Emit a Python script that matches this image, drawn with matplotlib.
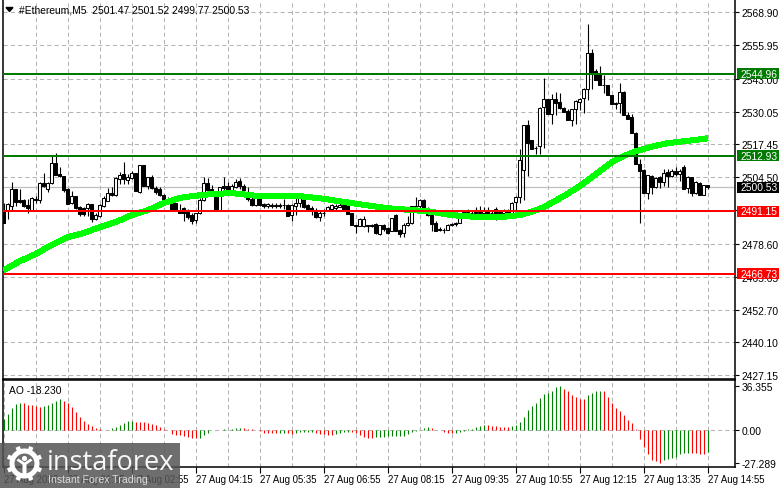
import matplotlib
matplotlib.use("Agg")
import matplotlib.pyplot as plt
from matplotlib.patches import Rectangle, Wedge, Circle, Polygon
from matplotlib.transforms import ScaledTranslation
import numpy as np

plt.rcParams['font.family'] = ['Liberation Sans', 'DejaVu Sans']

opens = [2491.4,2491.4,2493.3,2499.8,2495.5,2495.5,2493.6,2491.8,2495.9,2495.7,2502.2,2499.8,2502.2,2510.0,2505.8,2504.8,
 2499.8,2494.4,2497.0,2492.7,2492.3,2492.3,2494.0,2488.1,2489.2,2493.3,2495.3,2498.3,2497.5,2503.7,2505.7,2503.5,
 2504.1,2506.1,2498.8,2509.2,2501.1,2504.5,2500.3,2499.8,2497.5,2495.9,2495.3,2494.4,2491.8,2492.3,2491.0,2489.7,
 2487.7,2490.5,2495.7,2502.4,2499.8,2496.6,2491.8,2500.9,2500.9,2498.5,2500.5,2502.9,2501.1,2498.5,2495.9,2493.6,
 2496.2,2494.0,2493.1,2493.7,2493.6,2493.6,2493.6,2493.6,2489.7,2493.1,2494.4,2496.2,2493.6,2492.4,2491.6,2488.8,
 2490.7,2491.6,2492.0,2492.5,2492.9,2493.8,2493.6,2490.5,2485.8,2485.5,2485.3,2485.8,2485.9,2486.2,2482.3,2485.8,
 2484.5,2483.6,2489.7,2483.8,2482.7,2485.9,2486.6,2493.1,2493.1,2495.5,2492.3,2489.7,2486.8,2484.2,2483.9,2483.9,
 2486.4,2486.6,2486.8,2490.5,2491.0,2490.7,2490.5,2491.1,2490.7,2491.6,2490.7,2492.0,2490.7,2490.7,2491.8,2490.1,
 2494.9,2496.6,2507.4,2524.8,2518.9,2516.1,2516.5,2532.1,2534.9,2529.1,2534.9,2533.9,2531.7,2530.4,2526.9,2531.0,
 2533.9,2535.6,2539.1,2553.1,2546.0,2544.7,2540.6,2540.4,2536.5,2533.6,2533.4,2537.9,2528.9,2528.0,2521.9,2509.8,
 2507.2,2498.3,2505.0,2500.5,2504.6,2502.7,2506.6,2505.0,2507.1,2505.7,2508.5,2500.2,2504.4,2498.3,2502.4,2497.6,2501.47]
highs = [2494.6,2494.4,2502.7,2499.8,2499.8,2495.9,2495.9,2496.6,2497.2,2502.7,2506.1,2502.7,2512.6,2513.9,2508.3,2505.0,
 2500.1,2499.2,2497.2,2493.1,2492.7,2494.4,2494.0,2490.7,2494.0,2497.2,2500.1,2500.5,2504.4,2506.6,2510.5,2505.7,
 2507.0,2506.3,2509.2,2509.2,2504.5,2505.3,2501.1,2500.5,2497.9,2496.6,2495.9,2494.6,2494.0,2492.7,2492.0,2490.7,
 2490.7,2496.2,2504.4,2504.0,2501.4,2496.6,2500.5,2504.6,2502.7,2501.8,2503.7,2504.0,2501.8,2500.5,2497.2,2497.2,
 2497.2,2494.4,2494.6,2494.6,2494.4,2494.4,2495.9,2493.9,2493.9,2496.2,2497.2,2497.2,2494.0,2493.1,2492.3,2491.2,
 2492.0,2493.3,2494.0,2493.9,2494.4,2495.9,2493.9,2490.7,2486.0,2488.4,2489.4,2486.0,2486.2,2486.5,2486.0,2486.3,
 2484.9,2488.7,2490.1,2484.2,2486.8,2489.2,2493.3,2496.6,2495.9,2495.9,2492.7,2490.1,2487.5,2484.9,2484.5,2486.2,
 2486.8,2487.0,2488.8,2491.8,2492.0,2491.8,2492.7,2493.3,2492.7,2492.7,2491.8,2492.7,2491.8,2492.0,2492.0,2494.9,
 2497.2,2515.4,2524.8,2526.7,2518.9,2516.7,2531.9,2543.4,2535.2,2536.9,2537.9,2537.5,2531.9,2531.0,2531.3,2534.5,
 2535.4,2539.5,2564.2,2554.4,2546.9,2547.9,2544.4,2540.6,2536.7,2533.9,2541.2,2538.2,2530.0,2529.1,2522.2,2511.5,
 2507.6,2505.5,2505.3,2504.4,2505.0,2507.9,2507.6,2507.6,2508.3,2507.9,2509.2,2504.9,2504.6,2502.9,2502.7,2501.6,2501.52]
lows = [2486.6,2488.1,2491.4,2493.3,2494.4,2492.7,2490.7,2491.4,2494.4,2494.4,2500.5,2498.8,2501.8,2505.3,2504.5,2498.8,
 2494.0,2494.0,2492.0,2489.2,2489.2,2489.4,2487.1,2487.9,2488.8,2492.7,2495.3,2497.2,2497.0,2501.8,2501.8,2501.8,
 2503.7,2499.2,2498.5,2501.1,2499.8,2499.8,2497.9,2497.2,2494.6,2494.4,2491.4,2491.4,2490.7,2487.5,2488.1,2486.2,
 2486.6,2490.1,2495.3,2498.5,2497.9,2491.4,2491.4,2498.8,2497.9,2497.9,2500.1,2499.8,2498.8,2495.3,2493.3,2493.3,
 2493.1,2492.3,2492.3,2492.5,2492.3,2492.3,2492.0,2489.2,2487.5,2489.7,2492.7,2492.3,2491.8,2489.9,2488.4,2487.5,
 2489.4,2491.2,2491.8,2491.4,2492.7,2491.8,2490.1,2485.8,2482.9,2485.3,2485.0,2483.2,2484.9,2482.4,2481.9,2483.6,
 2482.3,2483.3,2483.6,2481.0,2481.0,2485.5,2486.2,2492.3,2492.0,2491.8,2489.4,2483.6,2483.3,2483.6,2482.7,2483.7,
 2485.5,2485.3,2486.6,2489.7,2489.7,2489.7,2489.7,2489.7,2489.4,2490.1,2489.2,2487.9,2489.4,2489.4,2489.7,2489.4,
 2489.7,2494.4,2495.7,2504.8,2516.1,2513.5,2513.5,2516.1,2531.7,2525.2,2528.7,2531.0,2531.0,2527.8,2524.5,2525.2,
 2530.8,2529.7,2534.7,2539.1,2545.1,2542.1,2537.5,2540.4,2536.2,2531.0,2529.7,2533.1,2528.7,2525.2,2521.3,2486.8,
 2506.3,2495.9,2498.0,2500.1,2500.1,2501.1,2500.5,2504.4,2504.8,2503.1,2505.4,2498.3,2497.2,2498.0,2498.0,2497.4,2499.77]
closes = [2486.8,2494.0,2499.8,2494.9,2494.9,2493.1,2492.3,2496.3,2495.7,2502.4,2500.9,2502.4,2510.0,2505.3,2505.0,2499.6,
 2494.0,2497.2,2492.3,2490.1,2490.1,2494.0,2488.1,2489.7,2493.8,2496.3,2498.3,2497.5,2504.1,2505.5,2503.7,2504.4,
 2506.1,2499.2,2509.2,2501.1,2504.5,2500.1,2498.8,2497.5,2495.3,2494.9,2491.8,2491.4,2490.7,2490.7,2488.8,2487.5,
 2490.5,2495.5,2502.2,2499.6,2498.3,2491.4,2500.5,2500.1,2498.5,2501.1,2502.7,2500.9,2499.6,2495.9,2493.6,2496.2,
 2493.6,2493.1,2494.0,2493.2,2493.1,2493.2,2493.5,2489.4,2493.6,2494.6,2496.3,2492.7,2492.0,2491.6,2488.8,2490.7,
 2490.6,2492.7,2493.6,2493.3,2493.7,2492.0,2490.1,2485.8,2485.5,2488.1,2488.1,2485.5,2485.3,2482.7,2485.8,2484.2,
 2482.7,2488.4,2483.6,2482.3,2486.0,2486.8,2493.1,2492.5,2495.5,2492.3,2489.7,2486.2,2483.6,2483.9,2483.7,2485.9,
 2485.8,2486.2,2488.4,2491.0,2490.7,2490.5,2491.1,2490.7,2491.6,2490.7,2490.5,2490.7,2491.0,2491.8,2490.5,2494.6,
 2496.6,2511.1,2524.8,2518.0,2515.4,2515.8,2531.7,2535.2,2529.1,2534.9,2533.4,2531.5,2530.0,2526.9,2531.0,2534.3,
 2535.2,2538.8,2553.1,2545.3,2542.5,2540.6,2540.4,2536.5,2533.2,2533.2,2537.9,2528.7,2527.1,2521.9,2509.6,2507.0,
 2498.3,2505.3,2500.5,2504.1,2502.7,2506.3,2505.0,2507.1,2505.7,2507.1,2499.8,2504.6,2498.3,2502.7,2497.6,2501.4,2500.53]

ma_index = [0,4,8,11,16,20,24,28,32,36,40,44,47,52,57,64,74,79,87,96,106,112,118,124,129,132,135,140,144,149,152,155,158,162,166,172,176]
ma_values = [2468.2,2471.7,2474.5,2477.2,2481.1,2482.7,2485.0,2487.0,2489.7,2491.6,2494.4,2496.4,2497.1,2497.9,2498.3,2497.1,
 2497.1,2496.3,2494.4,2492.4,2491.2,2489.7,2489.0,2488.9,2489.7,2491.0,2492.8,2497.1,2501.0,2506.8,2510.4,2512.8,2514.6,2516.4,2517.8,2518.9,2519.7]

ao_values = [8.8,13.2,17.9,21.2,22.0,21.9,20.9,20.4,19.8,19.3,19.5,20.4,22.0,24.2,25.3,23.7,22.0,18.7,14.6,10.5,7.7,5.0,3.3,1.4,0.6,0.3,0.2,
 1.4,2.8,4.1,6.1,7.2,7.4,6.9,6.3,6.2,5.8,5.0,4.1,2.2,0.6,-0.3,-3.6,-3.9,-4.4,-5.0,-5.5,-6.3,-6.9,-6.8,-4.4,-2.2,-0.3,-0.1,0.2,0.5,0.3,
 0.8,1.4,1.9,1.4,1.1,0.6,0.0,-0.5,-2.5,-2.6,-2.8,-2.9,-2.5,-2.2,-2.8,-3.0,-2.2,-1.9,-1.7,-1.6,-1.4,-2.2,-3.0,-3.6,-4.1,-4.4,-3.3,-2.2,
 -1.7,-1.4,-1.6,-2.2,-3.9,-5.5,-6.3,-6.6,-6.1,-5.5,-5.4,-5.3,-5.2,-5.1,-5.0,-4.9,-3.3,-1.9,-0.8,0.0,1.9,2.8,1.9,0.3,0.0,-1.7,-2.5,-2.8,
 -2.2,-1.4,-0.6,0.6,1.1,2.2,3.0,3.9,3.8,3.3,3.0,2.8,2.2,2.1,3.3,4.4,6.9,10.5,16.5,20.1,22.6,26.2,29.8,30.3,32.5,35.8,36.355,33.6,32.0,
 29.2,27.0,25.6,25.3,28.6,30.9,32.0,32.1,32.0,27.0,22.0,18.2,16.0,12.1,8.0,5.5,0.6,-7.7,-14.3,-20.1,-24.8,-25.9,-27.289,-25.1,-24.0,
 -23.4,-22.0,-19.8,-19.3,-19.0,-19.1,-19.3,-19.8,-20.1,-18.23]

price_ticks = [2568.90,2555.95,2543.00,2530.05,2517.45,2504.50,2491.55,2478.60,2465.65,2452.70,2440.10,2427.15]
price_labels = ['%.2f' % p for p in price_ticks]
ao_ticks = [36.355,0.0,-27.289]
ao_labels = ['36.355','0.00','-27.289']
date_index = [0,16,32,48,64,80,96,112,128,144,160,176]
date_labels = ['27 Aug 2026','27 Aug 01:35','27 Aug 02:55','27 Aug 04:15','27 Aug 05:35','27 Aug 06:55',
               '27 Aug 08:15','27 Aug 09:35','27 Aug 10:55','27 Aug 12:15','27 Aug 13:35','27 Aug 14:55']
green_levels = [2544.96,2512.93]
red_levels = [2491.15,2466.73]
last_price = 2500.53

W, H = 781, 489
fig = plt.figure(figsize=(W/100, H/100), dpi=100)
def axpx(l, t, r, b):
    return fig.add_axes([l/W, 1-b/H, (r-l)/W, (b-t)/H])

ax = axpx(2.5, 1, 735, 380)
sub = axpx(2.5, 381, 735, 468)
xlim = ((2.5-3.7)/4, (735-3.7)/4)
GRID = dict(color='#b4b4b4', linewidth=0.75, linestyle=(0, (4, 3)))

# main panel
x = np.arange(len(closes))
op, hi, lo, cl = map(np.array, (opens, highs, lows, closes))
ax.set_xlim(*xlim)
ax.set_ylim(2425.7, 2573.7)
ax.set_xticks(np.arange(8, 177, 8))
ax.tick_params(axis='x', length=0, labelbottom=False)
ax.yaxis.tick_right()
ax.set_yticks(price_ticks)
ax.set_yticklabels(price_labels, fontsize=7.4, color='black')
ax.tick_params(axis='y', length=3, width=0.8, pad=2)
ax.grid(True, zorder=0, **GRID)
ax.set_axisbelow(True)
ax.axhline(last_price, color='#c0c0c0', lw=0.9, zorder=1)
ax.vlines(x, lo, hi, color='black', lw=0.8, zorder=2)
up = cl >= op
ax.bar(x[up], (cl-op)[up], bottom=op[up], width=0.62, facecolor='white', edgecolor='black', lw=0.75, zorder=3)
ax.bar(x[~up], (cl-op)[~up], bottom=op[~up], width=0.62, facecolor='black', edgecolor='black', lw=0.75, zorder=3)
ax.plot(ma_index, ma_values, color='#00ff00', lw=3.6, solid_capstyle='butt', antialiased=False, zorder=4)
for v in green_levels:
    ax.axhline(v, color='#007a00', lw=1.2, antialiased=False, zorder=5)
for v in red_levels:
    ax.axhline(v, color='#ff0000', lw=1.2, antialiased=False, zorder=5)

# AO panel
sub.set_xlim(*xlim)
sub.set_ylim(-30.6, 41.3)
ao = np.array(ao_values)
rising = np.r_[True, ao[1:] > ao[:-1]]
sub.vlines(x, 0, ao, colors=np.where(rising, '#008000', '#ff0000'), lw=0.8, zorder=3)
sub.yaxis.tick_right()
sub.set_yticks(ao_ticks)
sub.set_yticklabels(ao_labels, fontsize=7.4)
sub.tick_params(axis='y', length=3, width=0.8, pad=2)
sub.set_xticks(date_index)
sub.set_xticklabels(date_labels, fontsize=6.9, ha='left')
shift = ScaledTranslation(-1.5/100, 0, fig.dpi_scale_trans)
for lab in sub.get_xticklabels():
    lab.set_transform(lab.get_transform() + shift)
sub.set_xticks(np.arange(8, 177, 16), minor=True)
sub.tick_params(axis='x', which='major', length=4, width=0.8, pad=1)
sub.tick_params(axis='x', which='minor', length=0)
sub.grid(True, axis='x', which='both', **GRID)
sub.axhline(0, zorder=1, **GRID)
sub.set_axisbelow(True)
sub.text(0.0085, 0.885, 'AO -18.230', transform=sub.transAxes, fontsize=7.4, va='center', ha='left')

for a in (ax, sub):
    for s in a.spines.values():
        s.set_linewidth(1.1)
        s.set_color('black')
ax.spines['top'].set_visible(False)

# overlay in pixel space: header, price flags, logo
ov = fig.add_axes([0, 0, 1, 1], facecolor='none')
ov.set_xlim(0, W)
ov.set_ylim(H, 0)
ov.axis('off')
fig.canvas.draw()
def ypx(price):
    return H - ax.transData.transform((0, price))[1]
ov.add_patch(Polygon([(6, 8.5), (13, 8.5), (9.5, 12.5)], color='black'))
ov.text(19, 10.5, '#Ethereum,M5  2501.47 2501.52 2499.77 2500.53', fontsize=7.4, va='center', ha='left')
flags = [(green_levels[0], '#007a00'), (green_levels[1], '#007a00'), (red_levels[0], '#ff0000'),
         (red_levels[1], '#ff0000'), (last_price, 'black')]
for v, c in flags:
    yy = ypx(v)
    ov.add_patch(Rectangle((737, yy-5.5), 42, 11, color=c, lw=0))
    ov.text(740.5, yy, '%.2f' % v, color='white', fontsize=7.4, va='center', ha='left')

ov.add_patch(Rectangle((0, 444), 180, 45, color='#555555', alpha=0.85, lw=0))
ov.text(47, 463, 'instaforex', color='white', fontsize=19.5, family='Open Sans', va='center', ha='left', alpha=0.95)
ov.text(48, 480, 'Instant Forex Trading', color='#dddddd', fontsize=7.6, va='center', ha='left')
cx, cy = 24.5, 464.5
ov.add_patch(Wedge((cx, cy), 15, 0, 360, width=5, color='white', lw=0))
for t in np.deg2rad(np.arange(0, 360, 45) + 22.5):
    ov.plot([cx+13*np.cos(t), cx+18*np.cos(t)], [cy+13*np.sin(t), cy+18*np.sin(t)], color='white', lw=3.2, solid_capstyle='butt')
ov.add_patch(Circle((cx, cy-5), 2.6, color='white', lw=0))
ov.add_patch(Polygon([(cx-8, cy-3), (cx-2, cy+1), (cx-2, cy+12), (cx+2, cy+12), (cx+2, cy+1), (cx+8, cy-3), (cx+6, cy-5), (cx, cy-1), (cx-6, cy-5)], color='white', lw=0))

fig.savefig('out.png', dpi=100)
